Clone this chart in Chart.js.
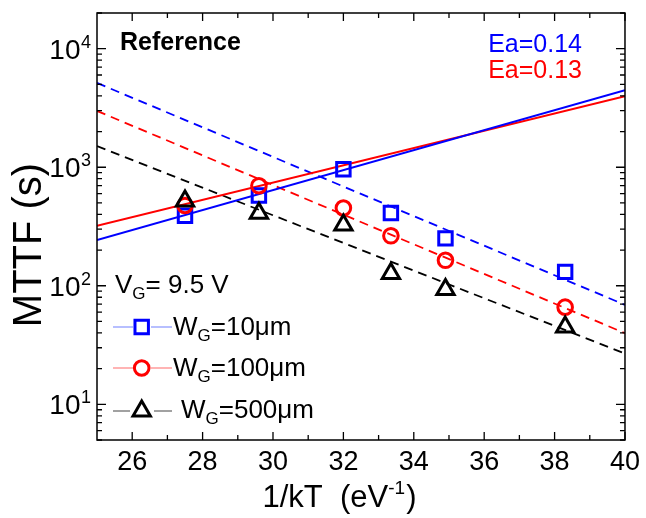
<!DOCTYPE html>
<html>
<head>
<meta charset="utf-8">
<script src="https://cdn.jsdelivr.net/npm/chart.js@4/dist/chart.umd.min.js"></script>
<style>
html,body{margin:0;padding:0;background:#fff;}
canvas{display:block;}
</style>
</head>
<body>
<canvas id="c" width="646" height="518"></canvas>
<script>
// ---- data ----
const invKT = [27.5, 29.6, 32.0, 33.35, 34.9, 38.3];
const mttfW10 = [389, 577, 962, 411, 251, 131];
const mttfW100 = [476, 698, 453, 264, 164, 66];
const mttfW500 = [520, 410, 325, 127, 93, 45];
const fitX = [25, 40];
const fitW10Solid = [243, 4467];
const fitW100Solid = [321, 3981];
const fitW10Dash = [5140, 69];
const fitW100Dash = [2985, 39.8];
const fitW500Dash = [1506, 26.8];
const xTicks = [26, 28, 30, 32, 34, 36, 38, 40];
const xMinor = [27, 29, 31, 33, 35, 37, 39];
const yMajor = [10, 100, 1000, 10000];
const yExp = ['1', '2', '3', '4'];
const legendLabels = ['=10\u03bcm', '=100\u03bcm', '=500\u03bcm'];
const eaLabels = ['Ea=0.14', 'Ea=0.13'];

const BLUE = '#0000ff', RED = '#ff0000', BLACK = '#000000';
const FF = '"Liberation Sans", Arial, Helvetica, sans-serif';

const pts = (xs, ys) => xs.map((x, i) => ({x: x, y: ys[i]}));

function yMinorVals() {
  const out = [];
  for (let e = 0; e <= 4; e++) {
    for (let m = 2; m <= 9; m++) {
      const v = m * Math.pow(10, e);
      if (v > 5 && v < 20000) out.push(v);
    }
  }
  out.push(5, 20000);
  return out;
}

function strokeMarker(ctx, style, x, y, r, color, lw) {
  ctx.save();
  ctx.strokeStyle = color;
  ctx.lineWidth = lw;
  ctx.beginPath();
  if (style === 'rect') {
    const s = Math.SQRT1_2 * r;
    ctx.rect(x - s, y - s, 2 * s, 2 * s);
  } else if (style === 'circle') {
    ctx.arc(x, y, r, 0, Math.PI * 2);
  } else {
    ctx.moveTo(x, y - r);
    ctx.lineTo(x + Math.sin(Math.PI * 2 / 3) * r, y + r / 2);
    ctx.lineTo(x - Math.sin(Math.PI * 2 / 3) * r, y + r / 2);
    ctx.closePath();
  }
  ctx.stroke();
  ctx.restore();
}

const decorPlugin = {
  id: 'decor',
  afterDraw(chart) {
    const ctx = chart.ctx;
    const a = chart.chartArea;
    const xs = chart.scales.x, ys = chart.scales.y;
    ctx.save();
    // frame
    ctx.strokeStyle = BLACK;
    ctx.lineWidth = 1.5;
    ctx.strokeRect(a.left, a.top, a.right - a.left, a.bottom - a.top);
    // ticks (inward on all four sides)
    ctx.lineWidth = 1.3;
    ctx.beginPath();
    xTicks.forEach(v => {
      const px = xs.getPixelForValue(v);
      ctx.moveTo(px, a.bottom); ctx.lineTo(px, a.bottom - 8);
      ctx.moveTo(px, a.top); ctx.lineTo(px, a.top + 8);
    });
    xMinor.forEach(v => {
      const px = xs.getPixelForValue(v);
      ctx.moveTo(px, a.bottom); ctx.lineTo(px, a.bottom - 5);
      ctx.moveTo(px, a.top); ctx.lineTo(px, a.top + 5);
    });
    yMajor.forEach(v => {
      const py = ys.getPixelForValue(v);
      ctx.moveTo(a.left, py); ctx.lineTo(a.left + 9, py);
      ctx.moveTo(a.right, py); ctx.lineTo(a.right - 9, py);
    });
    yMinorVals().forEach(v => {
      const py = ys.getPixelForValue(v);
      ctx.moveTo(a.left, py); ctx.lineTo(a.left + 5, py);
      ctx.moveTo(a.right, py); ctx.lineTo(a.right - 5, py);
    });
    ctx.stroke();

    ctx.fillStyle = BLACK;
    // y tick labels 10^n
    yMajor.forEach((v, i) => {
      const py = ys.getPixelForValue(v);
      ctx.font = '18px ' + FF;
      const ew = ctx.measureText(yExp[i]).width;
      const ex = 91 - ew;
      ctx.textAlign = 'left';
      ctx.textBaseline = 'alphabetic';
      ctx.fillText(yExp[i], ex, py - 1);
      ctx.font = '28px ' + FF;
      ctx.textAlign = 'right';
      ctx.fillText('10', ex - 0.5, py + 10);
    });

    // y title
    ctx.save();
    ctx.translate(30, 245);
    ctx.rotate(-Math.PI / 2);
    ctx.font = '40px ' + FF;
    ctx.textAlign = 'center';
    ctx.textBaseline = 'middle';
    ctx.fillText('MTTF (s)', 0, 0);
    ctx.restore();

    // x title with superscript
    ctx.textAlign = 'left';
    ctx.textBaseline = 'alphabetic';
    ctx.font = '31px ' + FF;
    const t1 = '1/kT  (eV', t2 = '-1', t3 = ')';
    const w1 = ctx.measureText(t1).width;
    const w3 = ctx.measureText(t3).width;
    ctx.font = '19px ' + FF;
    const w2 = ctx.measureText(t2).width;
    let tx = 339 - (w1 + w2 + w3) / 2;
    const tb = 507;
    ctx.font = '31px ' + FF;
    ctx.fillText(t1, tx, tb);
    ctx.font = '19px ' + FF;
    ctx.fillText(t2, tx + w1, tb - 13);
    ctx.font = '31px ' + FF;
    ctx.fillText(t3, tx + w1 + w2 + 1, tb);

    // annotations
    ctx.font = 'bold 25px ' + FF;
    ctx.fillText('Reference', 120, 50);
    ctx.font = '25px ' + FF;
    ctx.textAlign = 'right';
    ctx.fillStyle = BLUE;
    ctx.fillText(eaLabels[0], 582, 52);
    ctx.fillStyle = RED;
    ctx.fillText(eaLabels[1], 582, 78);

    // legend
    ctx.textAlign = 'left';
    ctx.fillStyle = BLACK;
    const sub = (x, base, main, s, rest) => {
      ctx.font = '26px ' + FF;
      ctx.fillText(main, x, base);
      let w = ctx.measureText(main).width;
      ctx.font = '17px ' + FF;
      ctx.fillText(s, x + w, base + 6);
      w += ctx.measureText(s).width;
      ctx.font = '26px ' + FF;
      ctx.fillText(rest, x + w, base);
    };
    sub(115, 293, 'V', 'G', '= 9.5 V');

    const rows = [
      {y: 327, style: 'rect', r: 9.5, color: BLUE, lc: '#7080ff', l1: [113, 133], l2: [151, 172], tx: 173, tb: 335},
      {y: 368, style: 'circle', r: 7.3, color: RED, lc: '#ff6a6a', l1: [113, 133], l2: [151, 172], tx: 173, tb: 376},
      {y: 411, style: 'triangle', r: 10, color: BLACK, lc: '#444444', l1: [113, 130], l2: [154, 172], tx: 181, tb: 418}
    ];
    rows.forEach((r, i) => {
      ctx.strokeStyle = r.lc;
      ctx.lineWidth = 1.2;
      ctx.beginPath();
      ctx.moveTo(r.l1[0], r.y); ctx.lineTo(r.l1[1], r.y);
      ctx.moveTo(r.l2[0], r.y); ctx.lineTo(r.l2[1], r.y);
      ctx.stroke();
      strokeMarker(ctx, r.style, 141.7, r.y, r.r, r.color, 3);
      ctx.fillStyle = BLACK;
      sub(r.tx, r.tb, 'W', 'G', legendLabels[i]);
    });
    ctx.restore();
  }
};

const markerBase = {showLine: false, backgroundColor: 'rgba(0,0,0,0)', pointBorderWidth: 3, pointBackgroundColor: 'rgba(0,0,0,0)'};
const lineBase = {showLine: true, pointRadius: 0, backgroundColor: 'rgba(0,0,0,0)', fill: false};

new Chart(document.getElementById('c'), {
  type: 'scatter',
  data: {
    datasets: [
      Object.assign({label: 'W500', data: pts(invKT, mttfW500), pointStyle: 'triangle', pointRadius: 10, borderColor: BLACK, pointBorderColor: BLACK}, markerBase),
      Object.assign({label: 'W100', data: pts(invKT, mttfW100), pointStyle: 'circle', pointRadius: 7.3, borderColor: RED, pointBorderColor: RED}, markerBase),
      Object.assign({label: 'W10', data: pts(invKT, mttfW10), pointStyle: 'rect', pointRadius: 9.5, borderColor: BLUE, pointBorderColor: BLUE}, markerBase),
      Object.assign({label: 'fit10s', data: pts(fitX, fitW10Solid), borderColor: BLUE, borderWidth: 2}, lineBase),
      Object.assign({label: 'fit100s', data: pts(fitX, fitW100Solid), borderColor: RED, borderWidth: 2}, lineBase),
      Object.assign({label: 'fit10d', data: pts(fitX, fitW10Dash), borderColor: BLUE, borderWidth: 1.8, borderDash: [9, 6]}, lineBase),
      Object.assign({label: 'fit100d', data: pts(fitX, fitW100Dash), borderColor: RED, borderWidth: 1.8, borderDash: [9, 6]}, lineBase),
      Object.assign({label: 'fit500d', data: pts(fitX, fitW500Dash), borderColor: BLACK, borderWidth: 1.8, borderDash: [9, 6]}, lineBase)
    ]
  },
  options: {
    responsive: false,
    animation: false,
    events: [],
    layout: {padding: {left: 0, right: 17, top: 8, bottom: 0}},
    plugins: {legend: {display: false}, tooltip: {enabled: false}},
    scales: {
      x: {
        type: 'linear', min: 25, max: 40,
        afterBuildTicks: s => { s.ticks = xTicks.map(v => ({value: v})); },
        grid: {display: false, drawTicks: false},
        border: {display: false},
        ticks: {color: BLACK, font: {size: 27, family: FF}, padding: 6, maxRotation: 0, autoSkip: false},
        afterFit: s => { s.height = 78; }
      },
      y: {
        type: 'logarithmic', min: 5, max: 20000,
        grid: {display: false, drawTicks: false},
        border: {display: false},
        ticks: {display: false},
        afterFit: s => { s.width = 97; }
      }
    }
  },
  plugins: [decorPlugin]
});
</script>
</body>
</html>
